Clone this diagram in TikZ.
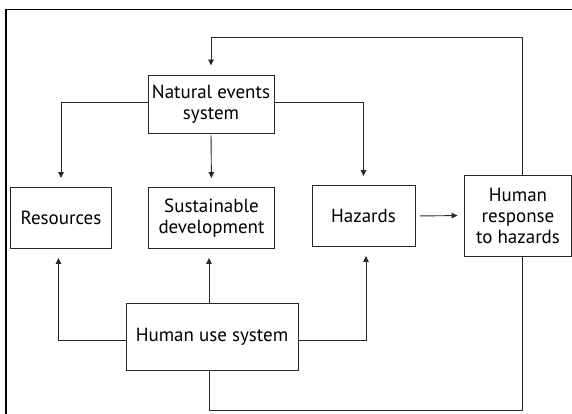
\documentclass[tikz,border=0pt]{standalone}
\usepackage{fontspec}
\setmainfont{PT Sans}
\usepackage{xcolor}
\usetikzlibrary{arrows.meta}
\definecolor{linegray}{RGB}{40, 40, 40}

\begin{document}
\begin{tikzpicture}[x=1pt, y=-1pt,
    box/.style={draw=linegray, line width=0.9pt, align=center, inner sep=0pt,
        font=\fontsize{19}{21}\selectfont},
    link/.style={draw=linegray, line width=0.9pt},
    arr/.style={link, -{Triangle[length=6pt, width=5.5pt]}, shorten >=9pt}]
\useasboundingbox (0,0) rectangle (572,414);
% Frame
\draw[line width=1.4pt] (6,414) -- (6,9.5) -- (572,9.5);

% Boxes
\node[box, minimum width=126pt, minimum height=58pt] (nes) at (211,104) {Natural events\\system};
\node[box, minimum width=101pt, minimum height=61pt] (res) at (61,218) {Resources};
\node[box, minimum width=126pt, minimum height=61pt] (sus) at (211.5,218) {Sustainable\\development};
\node[box, minimum width=103pt, minimum height=61pt] (haz) at (363.5,216) {Hazards};
\node[box, minimum width=107pt, minimum height=81pt] (hrh) at (518,215.5) {Human\\response\\to hazards};
\node[box, minimum width=172pt, minimum height=67pt] (hus) at (212,336.5) {Human use system};

% Corners of the loops
\coordinate (topr) at (522,37);
\coordinate (botl) at (209,410);
\coordinate (botr) at (522,410);

% Natural events down to the three results
\draw[arr] (nes.west |- 0,102) -| (res.north);
\draw[arr, shorten <=2pt] (nes.south) -- (sus.north);
\draw[arr] (nes.east |- 0,102) -| (haz.north);

% Human use up to the three results
\draw[arr] (hus.west |- 0,340) -| ([xshift=-2.5pt]res.south);
\draw[arr] ([xshift=-3pt]hus.north) -- ([xshift=-2.5pt]sus.south);
\draw[arr] (hus.east |- 0,340) -| ([xshift=2.5pt]haz.south);

% Hazards to response
\draw[arr, shorten <=4.5pt, shorten >=6.5pt] (haz.east) -- (hrh.west);

% Feedback loops
\draw[arr] (hrh.north -| topr) -- (topr) -| (nes.north);
\draw[link] (hus.south -| botl) -- (botl) -- (botr) -- (hrh.south -| botr);
\end{tikzpicture}
\end{document}
